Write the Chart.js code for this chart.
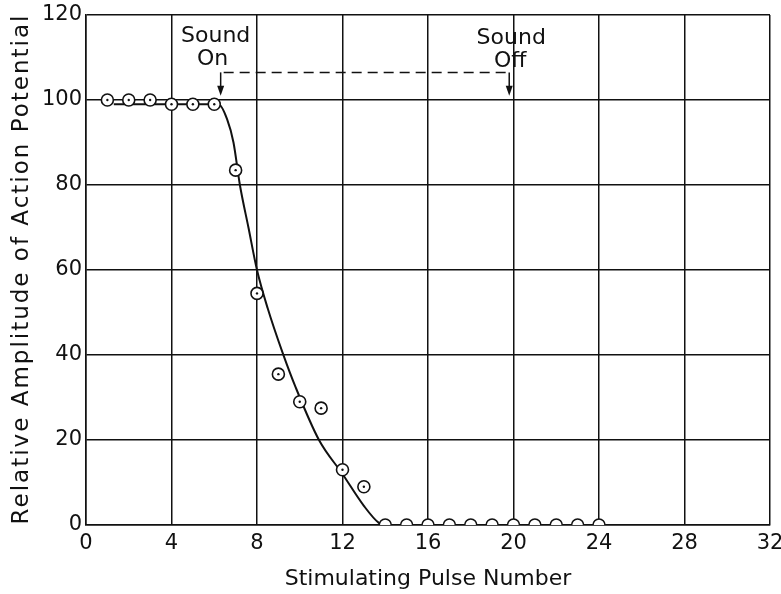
<!DOCTYPE html>
<html>
<head>
<meta charset="utf-8">
<script src="https://cdn.jsdelivr.net/npm/chart.js@4"></script>
<style>
  html, body { margin: 0; padding: 0; background: #fff; }
  #chart { display: block; }
</style>
</head>
<body>
<canvas id="chart" width="781" height="594"></canvas>
<script>
// measured points (pulse number -> relative amplitude)
const pulseNumbers = [1, 2, 3, 4, 5, 6, 7, 8, 9, 10, 11, 12, 13, 14, 15, 16, 17, 18, 19, 20, 21, 22, 23, 24];
const amplitudes   = [100, 100, 100, 99, 99, 99, 83.5, 54.5, 35.5, 29, 27.5, 13, 9, 0, 0, 0, 0, 0, 0, 0, 0, 0, 0, 0];

// hand-drawn fitted curve
const curveX = [1.3, 6.2, 6.6, 6.9, 7.2, 7.6, 8, 8.5, 9.2, 9.8, 10.9, 12, 13, 13.7, 14, 24];
const curveY = [99, 99, 95.5, 90, 80, 70, 60, 51, 40.5, 32.5, 20, 12, 4.5, 0.5, 0, 0];

const xTicks = [0, 4, 8, 12, 16, 20, 24, 28, 32];
const yTicks = [0, 20, 40, 60, 80, 100, 120];

const yTitle = 'Relative Amplitude of Action Potential';

// annotation: sound on/off markers
const soundOnX  = 6.3;
const soundOffX = 19.8;
const markerTop = 106.5;
const markerTip = 101;

const FONT = '"DejaVu Sans", sans-serif';
const INK  = '#111';

const annotations = {
  id: 'soundMarks',
  afterDatasetsDraw(chart) {
    const { ctx, scales: { x, y } } = chart;
    const xOn  = x.getPixelForValue(soundOnX);
    const xOff = x.getPixelForValue(soundOffX);
    const yTop = y.getPixelForValue(markerTop);
    const yTip = y.getPixelForValue(markerTip);

    ctx.save();
    ctx.strokeStyle = INK;
    ctx.fillStyle   = INK;
    ctx.lineWidth   = 1.5;

    // dashed span
    ctx.setLineDash([10, 6]);
    ctx.beginPath();
    ctx.moveTo(xOn + 3, yTop);
    ctx.lineTo(xOff, yTop);
    ctx.stroke();
    ctx.setLineDash([]);

    // arrows
    [xOn, xOff].forEach(px => {
      ctx.beginPath();
      ctx.moveTo(px, yTop);
      ctx.lineTo(px, yTip - 4);
      ctx.stroke();
      ctx.beginPath();
      ctx.moveTo(px - 3.5, yTip - 10);
      ctx.lineTo(px + 3.5, yTip - 10);
      ctx.lineTo(px, yTip);
      ctx.closePath();
      ctx.fill();
    });

    ctx.font = '22px ' + FONT;
    ctx.textAlign = 'center';
    ctx.textBaseline = 'middle';
    ctx.fillText('Sound', xOn - 5, 36);
    ctx.fillText('On', xOn - 8, 59);
    ctx.fillText('Sound', xOff + 2, 38);
    ctx.fillText('Off', xOff + 1, 61);

    // y axis title, widely spaced like the original lettering
    const cy = (y.top + y.bottom) / 2;
    ctx.translate(22, cy);
    ctx.rotate(-Math.PI / 2);
    ctx.font = '23px ' + FONT;
    ctx.letterSpacing = '2px';
    ctx.fillText(yTitle, 1, 0);
    ctx.restore();
  },
};

const dotData = pulseNumbers
  .map((p, i) => ({ x: p, y: amplitudes[i] }))
  .filter(d => d.y > 0);

new Chart(document.getElementById('chart'), {
  type: 'scatter',
  data: {
    datasets: [
      {
        type: 'line',
        data: curveX.map((v, i) => ({ x: v, y: curveY[i] })),
        borderColor: INK,
        borderWidth: 2,
        pointRadius: 0,
        cubicInterpolationMode: 'monotone',
        fill: false,
        order: 3,
      },
      {
        data: pulseNumbers.map((p, i) => ({ x: p, y: amplitudes[i] })),
        pointRadius: 6,
        pointBorderWidth: 1.6,
        pointBorderColor: INK,
        pointBackgroundColor: '#fff',
        order: 2,
      },
      {
        data: dotData,
        pointRadius: 1.2,
        pointBorderWidth: 0,
        pointBackgroundColor: INK,
        order: 1,
      },
    ],
  },
  options: {
    responsive: false,
    animation: false,
    layout: { padding: { top: 15, right: 11, left: 0, bottom: 0 } },
    plugins: { legend: { display: false }, tooltip: { enabled: false } },
    scales: {
      x: {
        type: 'linear',
        min: 0,
        max: 32,
        afterFit: s => { s.height = 69; s.paddingLeft = 0; s.paddingRight = 0; },
        afterBuildTicks: s => { s.ticks = xTicks.map(v => ({ value: v })); },
        grid: { color: INK, lineWidth: 1.5, drawTicks: false },
        border: { color: INK, width: 1.5 },
        ticks: { color: INK, font: { family: FONT, size: 21 }, padding: 6 },
        title: {
          display: true,
          text: 'Stimulating Pulse Number',
          color: INK,
          font: { family: FONT, size: 22 },
          padding: { top: 0, bottom: 2 },
        },
      },
      y: {
        min: 0,
        max: 120,
        afterFit: s => { s.width = 86; s.paddingTop = 0; s.paddingBottom = 0; },
        afterBuildTicks: s => { s.ticks = yTicks.map(v => ({ value: v })); },
        grid: { color: INK, lineWidth: 1.5, drawTicks: false },
        border: { color: INK, width: 1.5 },
        ticks: { color: INK, font: { family: FONT, size: 21 }, padding: 4 },
        title: { display: false },
      },
    },
  },
  plugins: [annotations],
});
</script>
</body>
</html>
